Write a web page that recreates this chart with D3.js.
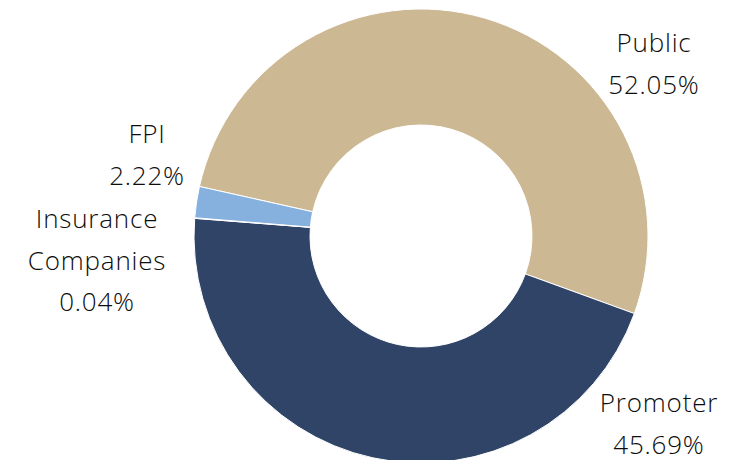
<!DOCTYPE html>
<html>
<head>
<meta charset="utf-8">
<script src="https://cdn.jsdelivr.net/npm/d3@7"></script>
<style>
  body { margin: 0; background: #fff; }
  text { font-family: "Open Sans", "Liberation Sans", sans-serif; font-weight: 300; fill: #0d0d0d; }
</style>
</head>
<body>
<svg id="chart" width="729" height="460"></svg>
<script>
// shareholding data, clockwise from Public
let categories = ["Public", "Promoter", "Insurance Companies", "FPI"]
let shares = [52.05, 45.69, 0.04, 2.22]
let labelLines = [["Public", "52.05%"], ["Promoter", "45.69%"], ["Insurance", "Companies", "0.04%"], ["FPI", "2.22%"]]
let colors = ["#CCB892", "#2F4466", "#86B0DE", "#86B0DE"]

let svg = d3.select("#chart")
let cx = 421, cy = 236
let outerR = 227, innerR = 111

let data = categories.map((c, i) => ({name: c, value: shares[i], lines: labelLines[i], color: colors[i]}))

let pie = d3.pie()
  .sort(null)
  .value(d => d.value)
  .startAngle(-77.4 * Math.PI / 180)
  .endAngle((360 - 77.4) * Math.PI / 180)

let arc = d3.arc().innerRadius(innerR).outerRadius(outerR)

let g = svg.append("g").attr("transform", "translate(" + cx + "," + cy + ")")

g.selectAll("path")
  .data(pie(data))
  .enter()
  .append("path")
  .attr("d", arc)
  .attr("fill", d => d.data.color)
  .attr("stroke", "#fff")
  .attr("stroke-width", 1)

// label positions (first baseline, centre x)
let labelPos = {
  "Public": [654, 52],
  "Promoter": [659, 412],
  "Insurance Companies": [97, 228],
  "FPI": [147, 143]
}

let lineH = 41.5
data.forEach(d => {
  let p = labelPos[d.name]
  let t = svg.append("text")
    .attr("text-anchor", "middle")
    .style("font-size", "26px")
    .style("letter-spacing", "0.8px")
  d.lines.forEach((l, i) => {
    t.append("tspan")
      .attr("x", p[0])
      .attr("y", p[1] + i * lineH)
      .text(l)
  })
})
</script>
</body>
</html>
